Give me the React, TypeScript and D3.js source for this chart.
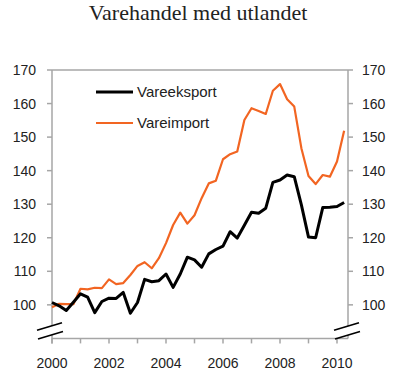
import React from "react";
import * as d3 from "d3";

const title = "Varehandel med utlandet";
const seriesNames = ["Vareeksport", "Vareimport"];
const startYear = 2000;
// quarterly values, 2000Q1 .. 2010Q2
const vareeksport = [
  100.7, 99.7, 98.3, 100.8, 103.3, 102.3, 97.7, 101.0, 102.0, 101.9, 103.7,
  97.5, 100.7, 107.6, 106.9, 107.2, 109.2, 105.2, 109.2, 114.2, 113.4, 111.2,
  115.2, 116.5, 117.5, 121.8, 119.9, 123.7, 127.6, 127.3, 128.8, 136.5, 137.2,
  138.7, 138.2, 129.8, 120.2, 120.0, 129.0, 129.1, 129.3, 130.5,
];
const vareimport = [
  99.3, 100.3, 100.2, 100.2, 104.8, 104.6, 105.1, 105.0, 107.6, 106.2, 106.5,
  108.9, 111.6, 112.7, 110.9, 113.9, 118.4, 123.8, 127.5, 124.2, 126.7, 131.8,
  136.2, 137.0, 143.4, 144.9, 145.7, 155.1, 158.6, 157.8, 156.9, 163.8, 165.8,
  161.3, 159.1, 146.7, 138.4, 136.0, 138.7, 138.2, 142.7, 151.9,
];
const yTicks = [100, 110, 120, 130, 140, 150, 160, 170];
const xLabels = [2000, 2002, 2004, 2006, 2008, 2010];
const xMinorTicks = [2000, 2001, 2002, 2003, 2004, 2005, 2006, 2007, 2008, 2009, 2010];

const colors = ["#000000", "#f26522"];

export default function App() {
  const left = 52;
  const right = 348;
  const top = 70;
  const bottom = 338.4;
  const x = d3.scaleLinear().domain([2000, 2010]).range([left, 337]);
  const y = d3.scaleLinear().domain([90, 170]).range([bottom, top]);

  const mk = (vals: number[]) =>
    d3
      .line<number>()
      .x((_, i) => x(startYear + i * 0.25))
      .y((d) => y(d))(vals) || "";

  const axisColor = "#a6a6a6";
  const textColor = "#222";
  const sans = "Liberation Sans, Arial, sans-serif";

  const breakMark = (cx: number) => {
    const y1 = y(93.6);
    const y2 = y(90.9);
    const dx = 10;
    const slope = 3;
    return (
      <g key={cx}>
        <polygon
          points={`${cx - dx},${y1 + slope} ${cx + dx},${y1 - slope} ${cx + dx},${y2 - slope} ${cx - dx},${y2 + slope}`}
          fill="#fff"
        />
        <line x1={cx - dx - 3} y1={y1 + slope + 0.9} x2={cx + dx + 2} y2={y1 - slope - 0.6} stroke="#000" strokeWidth={1.6} />
        <line x1={cx - dx - 2} y1={y2 + slope + 0.6} x2={cx + dx + 3} y2={y2 - slope - 0.9} stroke="#000" strokeWidth={1.6} />
      </g>
    );
  };

  return (
    <svg
      width={400}
      height={383}
      style={{ position: "absolute", left: 0, top: 0, background: "#fff" }}
    >
      <rect width={400} height={383} fill="#fff" />
      <text
        x={198}
        y={20}
        textAnchor="middle"
        fontFamily="Liberation Serif, Times New Roman, serif"
        fontSize={22}
        fill={textColor}
      >
        {title}
      </text>

      {/* frame */}
      <line x1={left} y1={top} x2={right} y2={top} stroke={axisColor} strokeWidth={1.5} />
      <line x1={left} y1={top} x2={left} y2={bottom + 5} stroke={axisColor} strokeWidth={1.5} />
      <line x1={right} y1={top} x2={right} y2={bottom} stroke={axisColor} strokeWidth={1.5} />
      <line x1={left} y1={bottom} x2={right} y2={bottom} stroke={axisColor} strokeWidth={1.5} />

      {yTicks.map((t) => (
        <g key={t}>
          <line x1={left - 5} x2={left} y1={y(t)} y2={y(t)} stroke={axisColor} strokeWidth={1.5} />
          <line x1={right} x2={right + 5} y1={y(t)} y2={y(t)} stroke={axisColor} strokeWidth={1.5} />
          <text x={36} y={y(t)} dy="0.36em" textAnchor="end" fontFamily={sans} fontSize={14} fill={textColor}>
            {t}
          </text>
          <text x={362} y={y(t)} dy="0.36em" textAnchor="start" fontFamily={sans} fontSize={14} fill={textColor}>
            {t}
          </text>
        </g>
      ))}

      {xMinorTicks.map((t) => (
        <line key={t} x1={x(t)} x2={x(t)} y1={bottom} y2={bottom + 5} stroke={axisColor} strokeWidth={1.5} />
      ))}
      {xLabels.map((t) => (
        <text key={t} x={x(t)} y={368} textAnchor="middle" fontFamily={sans} fontSize={14} fill={textColor}>
          {t}
        </text>
      ))}

      {breakMark(left - 2)}
      {breakMark(right - 1)}

      <path d={mk(vareimport)} fill="none" stroke={colors[1]} strokeWidth={2.2} strokeLinejoin="round" />
      <path d={mk(vareeksport)} fill="none" stroke={colors[0]} strokeWidth={3} strokeLinejoin="round" />

      {/* legend */}
      {seriesNames.map((n, i) => (
        <g key={n}>
          <line
            x1={96}
            x2={133}
            y1={92 + i * 31}
            y2={92 + i * 31}
            stroke={colors[i]}
            strokeWidth={i === 0 ? 3 : 2.2}
          />
          <text x={137} y={92 + i * 31} dy="0.36em" fontFamily={sans} fontSize={15} fill={textColor}>
            {n}
          </text>
        </g>
      ))}
    </svg>
  );
}
